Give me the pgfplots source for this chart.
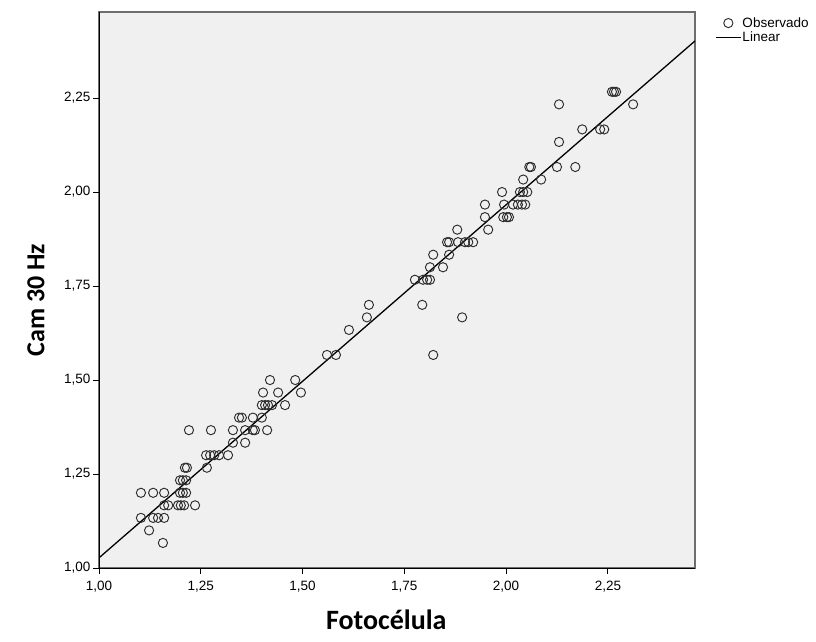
\documentclass[border=0pt]{standalone}
\usepackage{pgfplots}
\pgfplotsset{compat=1.18}
\usepackage{fontspec}
\setmainfont{Liberation Sans}
\newfontfamily\labelfont{Carlito}

\definecolor{plotbg}{HTML}{F0F0F0}
\definecolor{framegray}{HTML}{6E6E6E}
\definecolor{markgray}{HTML}{2E2E2E}

\pgfplotsset{
  obslegend/.style={legend image code/.code={\draw[mark repeat=2,mark phase=2,##1] plot coordinates {(0pt,0pt) (12.5pt,0pt) (25pt,0pt)};}},
  fitlegend/.style={legend image code/.code={\draw[##1] (0pt,0pt) -- (25pt,0pt);}},
}

\begin{document}
\begin{tikzpicture}[x=1pt,y=1pt]
\useasboundingbox (0,0) rectangle (816,642);
\begin{axis}[
  at={(99pt,74pt)}, anchor=south west,
  scale only axis, width=596pt, height=556pt,
  xmin=1.0, xmax=2.464, ymin=1.0, ymax=2.479,
  axis x line*=bottom, axis y line*=left,
  axis line style={black, line width=1pt},
  axis background/.style={fill=plotbg, draw=framegray, line width=1.4pt},
  xtick={1.00,1.25,1.50,1.75,2.00,2.25},
  ytick={1.00,1.25,1.50,1.75,2.00,2.25},
  tick align=outside, major tick length=6pt,
  tick style={black, line width=0.9pt},
  /pgf/number format/.cd, fixed, fixed zerofill, precision=2, use comma, assume math mode=true,
  /pgfplots/.cd,
  ticklabel style={font=\fontsize{13.5}{15}\selectfont, text=black},
  xticklabel style={yshift=-4pt},
  yticklabel style={xshift=1pt},
  xlabel={Fotocélula}, ylabel={Cam 30 Hz},
  xlabel style={at={(axis description cs:0.482,-0.1115)}, anchor=base, font=\labelfont\bfseries\fontsize{28}{30}\selectfont},
  ylabel style={at={(axis description cs:-0.106,0.482)}, anchor=center, font=\labelfont\bfseries\fontsize{26}{28}\selectfont},
  legend style={at={(axis description cs:1.0285,0.996)}, anchor=north west,
    draw=none, fill=none, font=\fontsize{13.5}{15}\selectfont, row sep=1pt,
    nodes={inner sep=1pt}},
  legend cell align=left,
  clip=true,
]
% observed values: photocell reading against the 30 Hz camera reading
\addplot[only marks, mark=o, mark size=4.6pt, draw=markgray, line width=0.95pt, obslegend]
  coordinates {
  (1.157,1.0667)
  (1.123,1.1000)
  (1.103,1.1333) (1.133,1.1333) (1.145,1.1333) (1.160,1.1333)
  (1.160,1.1667) (1.170,1.1667) (1.194,1.1667) (1.201,1.1667) (1.209,1.1667) (1.236,1.1667)
  (1.103,1.2000) (1.133,1.2000) (1.160,1.2000) (1.199,1.2000) (1.206,1.2000) (1.214,1.2000)
  (1.199,1.2333) (1.206,1.2333) (1.214,1.2333)
  (1.211,1.2667) (1.216,1.2667) (1.265,1.2667)
  (1.263,1.3000) (1.273,1.3000) (1.283,1.3000) (1.295,1.3000) (1.317,1.3000)
  (1.329,1.3333) (1.359,1.3333)
  (1.221,1.3667) (1.275,1.3667) (1.329,1.3667) (1.359,1.3667) (1.378,1.3667) (1.383,1.3667) (1.413,1.3667)
  (1.344,1.4000) (1.351,1.4000) (1.378,1.4000) (1.400,1.4000)
  (1.400,1.4333) (1.408,1.4333) (1.415,1.4333) (1.425,1.4333) (1.457,1.4333)
  (1.403,1.4667) (1.440,1.4667) (1.496,1.4667)
  (1.420,1.5000) (1.482,1.5000)
  (1.560,1.5667) (1.582,1.5667) (1.821,1.5667)
  (1.614,1.6333)
  (1.658,1.6667) (1.892,1.6667)
  (1.663,1.7000) (1.794,1.7000)
  (1.776,1.7667) (1.796,1.7667) (1.806,1.7667) (1.813,1.7667)
  (1.813,1.8000) (1.845,1.8000)
  (1.821,1.8333) (1.860,1.8333)
  (1.855,1.8667) (1.860,1.8667) (1.882,1.8667) (1.899,1.8667) (1.907,1.8667) (1.919,1.8667)
  (1.880,1.9000) (1.956,1.9000)
  (1.948,1.9333) (1.993,1.9333) (2.002,1.9333) (2.007,1.9333)
  (1.948,1.9667) (1.995,1.9667) (2.017,1.9667) (2.029,1.9667) (2.039,1.9667) (2.047,1.9667)
  (1.990,2.0000) (2.034,2.0000) (2.042,2.0000) (2.052,2.0000)
  (2.042,2.0333) (2.086,2.0333)
  (2.057,2.0667) (2.061,2.0667) (2.125,2.0667) (2.170,2.0667)
  (2.130,2.1333)
  (2.187,2.1667) (2.231,2.1667) (2.241,2.1667)
  (2.130,2.2333) (2.312,2.2333)
  (2.260,2.2667) (2.265,2.2667) (2.270,2.2667)
  };
\addlegendentry{Observado}
% least-squares fit line
\addplot[black, line width=1.3pt, fitlegend]
  coordinates {(1.0,1.027) (2.464,2.402)};
\addlegendentry{Linear}
\end{axis}
\end{tikzpicture}
\end{document}
